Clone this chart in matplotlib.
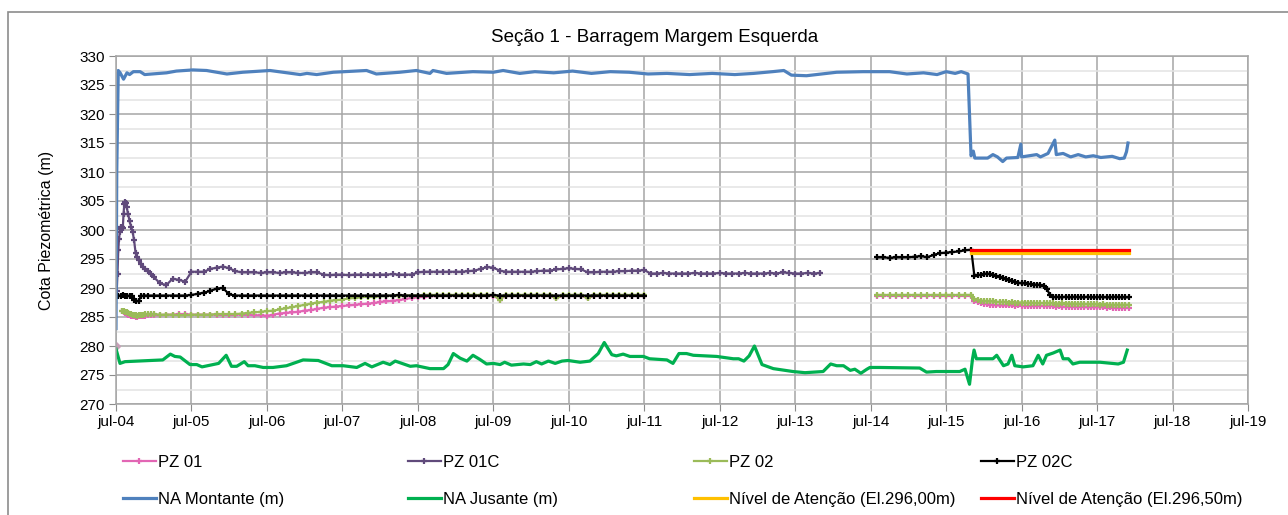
import numpy as np
import matplotlib
matplotlib.use('Agg')
import matplotlib.pyplot as plt
from matplotlib.patches import Rectangle

plt.rcParams['font.family'] = ['Liberation Sans', 'DejaVu Sans']

# tempo em anos decimais (jul-04 = 2004.5)
anos = list(range(2004, 2020))
rotulos = ['jul-%02d' % (a % 100) for a in anos]

# grades de leitura mensal / quinzenal
t_m = 2005 + np.arange(107) / 12
t_b = 2014.583 + np.arange(16) / 12
t_c = 2015.875 + np.arange(50) / 24

# ---------------- PZ 01C ----------------
pz01c_x0 = [2004.51, 2004.52, 2004.53, 2004.54, 2004.55, 2004.56, 2004.57, 2004.58, 2004.59,
            2004.60, 2004.61, 2004.62, 2004.63, 2004.64, 2004.66, 2004.68, 2004.70, 2004.72,
            2004.74, 2004.76, 2004.78, 2004.80, 2004.83, 2004.86, 2004.89, 2004.92, 2004.96]
pz01c_y0 = [289.5, 292.5, 296.5, 298.5, 299.6, 300.2, 300.6, 300.5, 300.3,
            302.8, 304.5, 304.9, 304.6, 304.0, 302.8, 301.5, 300.6, 299.7,
            298.2, 296.0, 295.3, 294.8, 294.2, 293.7, 293.2, 292.9, 292.5]
pz01c_m = [
    291.9, 290.8, 290.5, 291.6, 291.4, 291.1, 292.8, 292.8, 292.8, 293.3, 293.5, 293.7,  # 2005
    293.4, 292.9, 292.7, 292.7, 292.7, 292.6, 292.7, 292.7, 292.6, 292.7, 292.7, 292.6,  # 2006
    292.6, 292.7, 292.7, 292.3, 292.2, 292.3, 292.3, 292.2, 292.3, 292.3, 292.3, 292.3,  # 2007
    292.3, 292.3, 292.4, 292.3, 292.3, 292.3, 292.7, 292.8, 292.8, 292.8, 292.8, 292.8,  # 2008
    292.8, 292.8, 292.9, 293.0, 293.3, 293.6, 293.5, 293.0, 292.8, 292.8, 292.8, 292.8,  # 2009
    292.8, 292.9, 293.0, 293.0, 293.2, 293.3, 293.4, 293.3, 293.2, 292.7, 292.7, 292.8,  # 2010
    292.8, 292.8, 292.9, 292.9, 293.0, 293.0, 293.1, 292.5, 292.5, 292.6, 292.5, 292.5,  # 2011
    292.5, 292.5, 292.6, 292.5, 292.5, 292.5, 292.6, 292.5, 292.5, 292.5, 292.6, 292.5,  # 2012
    292.5, 292.5, 292.6, 292.5, 292.7, 292.6, 292.5, 292.5, 292.6, 292.5, 292.6,         # 2013
]

# ---------------- PZ 02C ----------------
pz02c_x0 = [2004.50, 2004.53, 2004.56, 2004.59, 2004.62, 2004.65, 2004.68,
            2004.71, 2004.74, 2004.77, 2004.80, 2004.83, 2004.87, 2004.92]
pz02c_y0 = [288.8, 288.7, 288.7, 288.8, 288.7, 288.7, 288.6,
            288.6, 287.9, 287.7, 287.8, 288.6, 288.7, 288.7]
pz02c_m = [
    288.7, 288.7, 288.7, 288.7, 288.7, 288.7, 288.8, 289.0, 289.2, 289.5, 289.9, 290.0,  # 2005
    288.9, 288.7, 288.7, 288.7, 288.7, 288.7, 288.7, 288.7, 288.7, 288.7, 288.7, 288.7,  # 2006
    288.7, 288.7, 288.7, 288.7, 288.7, 288.7, 288.7, 288.7, 288.7, 288.7, 288.7, 288.7,  # 2007
    288.7, 288.7, 288.7, 288.8, 288.7, 288.7, 288.7, 288.7, 288.7, 288.7, 288.7, 288.7,  # 2008
    288.7, 288.7, 288.7, 288.7, 288.7, 288.7, 288.8, 288.7, 288.7, 288.7, 288.7, 288.7,  # 2009
    288.7, 288.7, 288.7, 288.7, 288.7, 288.7, 288.7, 288.7, 288.7, 288.7, 288.7, 288.7,  # 2010
    288.7, 288.7, 288.7, 288.7, 288.7, 288.7, 288.7,                                     # 2011
]
pz02c_b = [295.3, 295.3, 295.2, 295.3, 295.3, 295.3, 295.4, 295.5,
           295.3, 295.7, 296.0, 296.1, 296.2, 296.3, 296.5, 296.6]
pz02c_c = [
    292.0, 292.2, 292.3, 292.4, 292.5, 292.4, 292.3, 292.1, 291.9, 291.7, 291.5, 291.3,
    291.2, 291.0, 290.9, 290.8, 290.8, 290.7, 290.7, 290.6, 290.6, 290.5, 290.4, 289.9,
    288.8, 288.4, 288.5, 288.4, 288.4, 288.5, 288.4, 288.4, 288.5, 288.4, 288.4, 288.4,
    288.5, 288.4, 288.4, 288.4, 288.5, 288.4, 288.4, 288.4, 288.4, 288.5, 288.4, 288.4,
    288.4, 288.4,
]

# ---------------- PZ 02 ----------------
pz02_x0 = [2004.58, 2004.60, 2004.62, 2004.64, 2004.66, 2004.68, 2004.70, 2004.72, 2004.74,
           2004.76, 2004.78, 2004.80, 2004.83, 2004.86, 2004.89, 2004.92, 2004.96]
pz02_y0 = [286.1, 286.0, 285.9, 285.8, 285.7, 285.6, 285.5, 285.4, 285.3,
           285.3, 285.2, 285.3, 285.4, 285.4, 285.5, 285.5, 285.5]
pz02_m = [
    285.5, 285.4, 285.4, 285.4, 285.3, 285.3, 285.4, 285.4, 285.4, 285.4, 285.5, 285.5,  # 2005
    285.5, 285.5, 285.6, 285.7, 285.8, 285.9, 286.0, 286.1, 286.3, 286.5, 286.7, 286.9,  # 2006
    287.1, 287.3, 287.5, 287.6, 287.8, 287.9, 288.0, 288.2, 288.3, 288.4, 288.5, 288.5,  # 2007
    288.6, 288.6, 288.7, 288.7, 288.7, 288.7, 288.7, 288.8, 288.8, 288.8, 288.8, 288.8,  # 2008
    288.8, 288.8, 288.8, 288.8, 288.8, 288.8, 288.8, 288.0, 288.8, 288.8, 288.8, 288.8,  # 2009
    288.8, 288.8, 288.8, 288.8, 288.2, 288.8, 288.8, 288.8, 288.8, 288.2, 288.8, 288.8,  # 2010
    288.8, 288.8, 288.8, 288.8, 288.8, 288.8, 288.8,                                     # 2011
]
pz02_b = [288.8, 288.8, 288.8, 288.8, 288.8, 288.8, 288.8, 288.8,
          288.8, 288.8, 288.8, 288.8, 288.8, 288.8, 288.8, 288.8]
pz02_c = [
    288.1, 287.9, 287.8, 287.8, 287.7, 287.7, 287.7, 287.6, 287.6, 287.6, 287.6, 287.5,
    287.6, 287.5, 287.5, 287.5, 287.5, 287.4, 287.5, 287.4, 287.4, 287.4, 287.4, 287.4,
    287.4, 287.4, 287.3, 287.3, 287.4, 287.3, 287.3, 287.3, 287.3, 287.2, 287.3, 287.2,
    287.2, 287.2, 287.2, 287.2, 287.1, 287.2, 287.1, 287.1, 287.1, 287.1, 287.1, 287.1,
    287.1, 287.1,
]

# ---------------- PZ 01 ----------------
pz01_x0 = pz02_x0
pz01_y0 = [286.1, 285.9, 285.7, 285.5, 285.4, 285.3, 285.2, 285.1, 285.1,
           285.0, 285.0, 285.1, 285.1, 285.2, 285.2, 285.3, 285.3]
pz01_m = [
    285.3, 285.3, 285.4, 285.4, 285.5, 285.5, 285.4, 285.4, 285.4, 285.4, 285.4, 285.4,  # 2005
    285.4, 285.4, 285.4, 285.4, 285.3, 285.3, 285.2, 285.4, 285.6, 285.7, 285.8, 285.9,  # 2006
    286.1, 286.2, 286.4, 286.6, 286.7, 286.8, 286.9, 287.0, 287.1, 287.2, 287.3, 287.4,  # 2007
    287.6, 287.7, 287.8, 287.9, 288.1, 288.3, 288.4, 288.5, 288.6, 288.6, 288.7, 288.7,  # 2008
    288.7, 288.7, 288.7, 288.7, 288.7, 288.7, 288.7, 288.0, 288.7, 288.7, 288.7, 288.7,  # 2009
    288.7, 288.7, 288.7, 288.7, 288.2, 288.7, 288.7, 288.7, 288.7, 288.2, 288.7, 288.7,  # 2010
    288.7, 288.7, 288.7, 288.7, 288.7, 288.7, 288.7,                                     # 2011
]
pz01_b = [288.7, 288.7, 288.7, 288.7, 288.7, 288.7, 288.7, 288.7,
          288.7, 288.7, 288.7, 288.7, 288.7, 288.7, 288.7, 288.7]
pz01_c = [
    287.8, 287.6, 287.4, 287.3, 287.2, 287.1, 287.1, 287.0, 287.0, 287.0, 287.0, 287.0,
    287.0, 286.9, 287.0, 286.9, 286.9, 286.9, 286.9, 286.9, 286.9, 286.9, 286.9, 286.9,
    286.9, 286.9, 286.8, 286.9, 286.8, 286.8, 286.8, 286.8, 286.8, 286.7, 286.8, 286.7,
    286.7, 286.7, 286.7, 286.7, 286.7, 286.7, 286.6, 286.7, 286.6, 286.6, 286.6, 286.6,
    286.6, 286.6,
]
pz_ini_x = [2004.50]
pz_ini_y = [280.0]

# ---------------- NA Montante ----------------
mont_x = [2004.50, 2004.51, 2004.53, 2004.555, 2004.60, 2004.645, 2004.68, 2004.73, 2004.82,
          2004.88, 2005.17, 2005.30, 2005.52, 2005.70, 2005.97, 2006.18, 2006.54, 2006.94,
          2007.03, 2007.16, 2007.38, 2007.82, 2007.95, 2008.26, 2008.48, 2008.66, 2008.70,
          2008.88, 2009.23, 2009.50, 2009.63, 2009.85, 2010.05, 2010.30, 2010.55, 2010.80,
          2011.05, 2011.30, 2011.55, 2011.80, 2012.10, 2012.40, 2012.70, 2012.95, 2013.20,
          2013.35, 2013.45, 2013.65, 2013.85, 2014.05, 2014.40, 2014.75, 2014.98, 2015.20,
          2015.38, 2015.50, 2015.62, 2015.70, 2015.79, 2015.83, 2015.86, 2015.88, 2015.95,
          2016.05, 2016.12, 2016.18, 2016.25, 2016.30, 2016.45, 2016.49, 2016.50, 2016.60,
          2016.70, 2016.75, 2016.85, 2016.94, 2016.96, 2017.05, 2017.15, 2017.25, 2017.35,
          2017.45, 2017.55, 2017.70, 2017.80, 2017.86, 2017.89, 2017.91]
mont_y = [283.0, 310.0, 327.5, 327.1, 326.0, 327.1, 326.8, 327.3, 327.3,
          326.8, 327.1, 327.4, 327.6, 327.5, 326.9, 327.2, 327.5, 326.8,
          327.0, 326.8, 327.2, 327.5, 326.9, 327.2, 327.5, 327.0, 327.5,
          327.0, 327.3, 327.2, 327.5, 327.0, 327.3, 327.1, 327.4, 327.0,
          327.3, 327.2, 326.9, 327.0, 326.8, 327.0, 326.8, 327.0, 327.3,
          327.5, 326.7, 326.6, 326.9, 327.2, 327.3, 327.3, 326.9, 327.1,
          326.8, 327.3, 327.0, 327.3, 326.9, 312.8, 313.6, 312.4, 312.4,
          312.4, 313.0, 312.6, 311.8, 312.4, 312.5, 314.8, 312.6, 312.8,
          313.0, 312.6, 313.2, 315.5, 313.0, 313.2, 312.6, 313.0, 312.6,
          312.8, 312.5, 312.7, 312.3, 312.4, 313.5, 315.0]

# ---------------- NA Jusante ----------------
jus_x = [2004.50, 2004.553, 2004.62, 2005.12, 2005.22, 2005.28, 2005.35, 2005.48, 2005.57,
         2005.64, 2005.86, 2005.96, 2006.03, 2006.10, 2006.20, 2006.25, 2006.34, 2006.45,
         2006.58, 2006.76, 2006.98, 2007.18, 2007.36, 2007.51, 2007.69, 2007.80, 2007.89,
         2008.04, 2008.13, 2008.20, 2008.40, 2008.48, 2008.66, 2008.84, 2008.90, 2008.97,
         2009.06, 2009.15, 2009.23, 2009.32, 2009.41, 2009.50, 2009.59, 2009.65, 2009.74,
         2009.90, 2009.99, 2010.07, 2010.14, 2010.23, 2010.32, 2010.41, 2010.49, 2010.65,
         2010.78, 2010.89, 2010.97, 2011.07, 2011.13, 2011.22, 2011.31, 2011.49, 2011.57,
         2011.80, 2011.88, 2011.96, 2012.06, 2012.15, 2012.46, 2012.68, 2012.75, 2012.82,
         2012.89, 2012.96, 2013.06, 2013.21, 2013.47, 2013.63, 2013.87, 2013.97, 2014.05,
         2014.14, 2014.23, 2014.29, 2014.37, 2014.45, 2014.49, 2014.62, 2015.15, 2015.24,
         2015.37, 2015.68, 2015.75, 2015.81, 2015.85, 2015.87, 2015.90, 2016.12, 2016.17,
         2016.26, 2016.32, 2016.37, 2016.41, 2016.52, 2016.65, 2016.72, 2016.78, 2016.83,
         2016.92, 2017.01, 2017.05, 2017.12, 2017.18, 2017.27, 2017.54, 2017.78, 2017.85,
         2017.90]
jus_y = [279.5, 277.0, 277.3, 277.6, 278.6, 278.2, 278.1, 276.8, 276.8,
         276.4, 277.0, 278.4, 276.5, 276.5, 277.3, 276.6, 276.6, 276.3,
         276.3, 276.6, 277.6, 277.5, 276.6, 276.6, 276.3, 277.0, 276.4,
         277.2, 276.8, 277.4, 276.5, 276.6, 276.1, 276.1, 276.8, 278.7,
         277.9, 277.4, 278.4, 277.7, 276.9, 277.0, 276.8, 277.2, 276.7,
         276.9, 276.8, 277.3, 276.9, 277.4, 277.0, 277.4, 277.5, 277.2,
         277.4, 278.7, 280.6, 278.5, 278.3, 278.6, 278.2, 278.2, 277.8,
         277.6, 277.0, 278.7, 278.7, 278.4, 278.2, 277.8, 277.8, 277.4,
         278.3, 280.0, 276.8, 276.1, 275.6, 275.4, 275.6, 276.9, 276.6,
         276.6, 275.8, 276.0, 275.3, 276.0, 276.3, 276.3, 276.2, 275.5,
         275.6, 275.6, 276.0, 273.4, 277.8, 279.3, 277.8, 277.8, 278.4,
         276.6, 276.9, 278.4, 276.6, 276.4, 276.6, 278.4, 276.9, 278.4,
         278.8, 279.3, 277.8, 277.8, 276.9, 277.2, 277.2, 276.9, 277.2,
         279.3]

# ---------------- Níveis de atenção ----------------
nivel_x = [2015.83, 2017.92]
nivel_296 = [296.0, 296.0]
nivel_2965 = [296.5, 296.5]

# ---------------- figura ----------------
fig = plt.figure(figsize=(12.88, 5.15), dpi=100)
fig.patches.append(Rectangle((8 / 1288, -0.1), 1.2, 1 - 12 / 515 + 0.1,
                             transform=fig.transFigure, fill=False,
                             edgecolor='#8c8c8c', linewidth=1.2))
ax = fig.add_axes([116 / 1288, 1 - 404 / 515, (1248 - 116) / 1288, (404 - 56) / 515])

estilo_pz = dict(marker='+', markersize=5, markeredgewidth=1.6, linewidth=1.6)


def junta(*partes):
    x, y = [], []
    for px, py in partes:
        x += list(px[:len(py)])
        y += list(py)
    return x, y


def plota_pz(segmentos, cor, nome):
    h = None
    for i, seg in enumerate(segmentos):
        x, y = junta(*seg)
        l, = ax.plot(x, y, color=cor, label=nome if i == 0 else None, **estilo_pz)
        if i == 0:
            h = l
    return h


h1 = plota_pz([[(pz01_x0, pz01_y0), (t_m, pz01_m)], [(t_b, pz01_b), (t_c, pz01_c)]],
              '#e266b4', 'PZ 01')
h2 = plota_pz([[(pz01c_x0, pz01c_y0), (t_m, pz01c_m)]], '#604a7b', 'PZ 01C')
h3 = plota_pz([[(pz02_x0, pz02_y0), (t_m, pz02_m)], [(t_b, pz02_b), (t_c, pz02_c)]],
              '#9bbb59', 'PZ 02')
ax.plot(pz_ini_x, pz_ini_y, linestyle='none', color='#c8a0b8', marker='D', markersize=4)
h4 = plota_pz([[(pz02c_x0, pz02c_y0), (t_m, pz02c_m)], [(t_b, pz02c_b), (t_c, pz02c_c)]],
              'black', 'PZ 02C')
h5, = ax.plot(mont_x, mont_y, color='#4f81bd', linewidth=2.3, label='NA Montante (m)')
h6, = ax.plot(jus_x, jus_y, color='#00b050', linewidth=2.3, label='NA Jusante (m)')
h7, = ax.plot(nivel_x, nivel_296, color='#ffc000', linewidth=2.3,
              label='Nível de Atenção (El.296,00m)')
h8, = ax.plot(nivel_x, nivel_2965, color='#ff0000', linewidth=2.3,
              label='Nível de Atenção (El.296,50m)')

ax.set_xlim(2004.5, 2019.5)
ax.set_ylim(270, 330)
ax.set_xticks([a + 0.5 for a in anos])
ax.set_xticklabels(rotulos)
ax.set_yticks(range(270, 331, 5))
ax.set_yticks(np.arange(272.5, 330, 5), minor=True)
ax.tick_params(axis='both', which='major', labelsize=11, length=5, color='#8c8c8c', pad=3)
ax.tick_params(axis='y', which='minor', length=0)
ax.grid(True, which='major', color='#a6a6a6', linewidth=1.1)
ax.grid(True, which='minor', axis='y', color='#e3e3e3', linewidth=1.1)
ax.set_axisbelow(True)
for s in ax.spines.values():
    s.set_color('#a6a6a6')
    s.set_linewidth(1.1)
ax.set_ylabel('Cota Piezométrica (m)', fontsize=11.5, labelpad=18)

fig.text(655 / 1288, 1 - 37 / 515, 'Seção 1 - Barragem Margem Esquerda',
         ha='center', va='center', fontsize=13.5)

# legenda em quatro colunas
colunas = [(123, [h1, h5]), (408, [h2, h6]), (694, [h3, h7]), (981, [h4, h8])]
for xc, hs in colunas:
    fig.legend(handles=hs, loc='upper left', bbox_to_anchor=(xc / 1288, 1 - 455 / 515),
               frameon=False, fontsize=12, borderpad=0, borderaxespad=0,
               handlelength=1.95, handletextpad=0.15, labelspacing=1.33, numpoints=1)

fig.savefig('out.png', dpi=100)
